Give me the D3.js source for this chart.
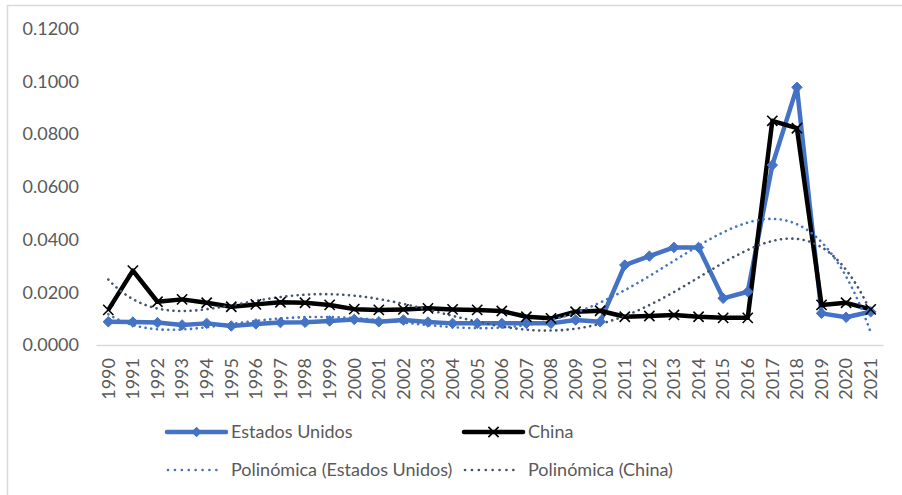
<!DOCTYPE html>
<html>
<head>
<meta charset="utf-8">
<script src="https://cdn.jsdelivr.net/npm/d3@7"></script>
<style>
  html, body { margin: 0; padding: 0; background: #fff; }
  svg { display: block; }
  text { font-family: Lato, "Open Sans", sans-serif; fill: #595959; }
</style>
</head>
<body>
<svg id="chart" width="902" height="495"></svg>
<script>
// Categories and series
const years = ["1990","1991","1992","1993","1994","1995","1996","1997","1998","1999",
  "2000","2001","2002","2003","2004","2005","2006","2007","2008","2009",
  "2010","2011","2012","2013","2014","2015","2016","2017","2018","2019","2020","2021"];

const estadosUnidos = [0.0088,0.0087,0.0085,0.0076,0.0082,0.0072,0.0080,0.0085,0.0086,0.0091,
  0.0097,0.0088,0.0095,0.0087,0.0082,0.0082,0.0082,0.0082,0.0082,0.0095,
  0.0088,0.0303,0.0337,0.0370,0.0370,0.0177,0.0202,0.0682,0.0977,0.0120,0.0105,0.0126];

const china = [0.0133,0.0282,0.0164,0.0173,0.0160,0.0145,0.0154,0.0162,0.0160,0.0152,
  0.0136,0.0133,0.0135,0.0139,0.0135,0.0133,0.0129,0.0107,0.0101,0.0126,
  0.0130,0.0107,0.0110,0.0114,0.0107,0.0103,0.0103,0.0850,0.0822,0.0152,0.0160,0.0135];

const yTicks = [0, 0.02, 0.04, 0.06, 0.08, 0.10, 0.12];

const seriesNames = ["Estados Unidos", "China"];
const trendNames = ["Polinómica (Estados Unidos)", "Polinómica (China)"];
const trendOrder = 5;

const svg = d3.select("#chart");

// Outer chart frame
svg.append("rect")
  .attr("x", 7.5).attr("y", 5.5)
  .attr("width", 1000).attr("height", 1000)
  .attr("fill", "none").attr("stroke", "#d9d9d9").attr("stroke-width", 1.5);

const plot = { left: 96, right: 883, top: 28.5, bottom: 345 };

const x = d3.scaleBand().domain(years).range([plot.left, plot.right]).padding(0);
const y = d3.scaleLinear().domain([0, 0.12]).range([plot.bottom, plot.top]);
const cx = d => x(d) + x.bandwidth() / 2;

// Y axis labels (no gridlines)
const yAxis = d3.axisLeft(y).tickValues(yTicks).tickFormat(d3.format(".4f")).tickSize(0).tickPadding(0);
const gy = svg.append("g").attr("transform", "translate(79,0)").call(yAxis);
gy.select(".domain").remove();
gy.selectAll("text").attr("font-size", "18px").attr("fill", "#595959")
  .style("font-family", "Lato, 'Open Sans', sans-serif");

// X axis line and rotated category labels
const xAxis = d3.axisBottom(x).tickSize(0).tickPadding(0);
const gx = svg.append("g").attr("transform", `translate(0,${plot.bottom})`).call(xAxis);
gx.select(".domain").attr("stroke", "#d9d9d9").attr("stroke-width", 1.5);
gx.selectAll("text")
  .attr("font-size", "18px").attr("fill", "#595959")
  .style("font-family", "Lato, 'Open Sans', sans-serif")
  .attr("text-anchor", "end")
  .attr("y", 0).attr("dy", "0.35em")
  .attr("transform", "translate(0,13) rotate(-90)");

// Least-squares polynomial trend computed from a series
function polyFit(values, order) {
  const n = values.length, mid = (n - 1) / 2;
  const ts = values.map((_, i) => (i - mid) / mid);
  const m = order + 1;
  const A = Array.from({ length: m }, () => new Array(m + 1).fill(0));
  ts.forEach((t, i) => {
    const p = [];
    for (let k = 0; k < m; k++) p.push(Math.pow(t, k));
    for (let r = 0; r < m; r++) {
      for (let c = 0; c < m; c++) A[r][c] += p[r] * p[c];
      A[r][m] += p[r] * values[i];
    }
  });
  for (let col = 0; col < m; col++) {
    let piv = col;
    for (let r = col + 1; r < m; r++) if (Math.abs(A[r][col]) > Math.abs(A[piv][col])) piv = r;
    [A[col], A[piv]] = [A[piv], A[col]];
    for (let r = 0; r < m; r++) {
      if (r === col) continue;
      const f = A[r][col] / A[col][col];
      for (let c = col; c <= m; c++) A[r][c] -= f * A[col][c];
    }
  }
  const coef = A.map((row, i) => row[m] / row[i]);
  return i => {
    const t = (i - mid) / mid;
    let v = 0;
    for (let k = m - 1; k >= 0; k--) v = v * t + coef[k];
    return v;
  };
}

const idx = d3.scaleLinear().domain([0, years.length - 1])
  .range([cx(years[0]), cx(years[years.length - 1])]);

function trendPoints(values) {
  const f = polyFit(values, trendOrder);
  const pts = [];
  for (let i = 0; i <= years.length - 1 + 1e-9; i += 0.1) pts.push([idx(i), y(f(i))]);
  return pts;
}

const colors = { us: "#4472C4", cn: "#000000", usTrend: "#4472C4", cnTrend: "#44546A" };
const dotted = { "stroke-width": 2.6, "stroke-dasharray": "0.1 5.6", "stroke-linecap": "round" };

const curve = d3.line().x(d => d[0]).y(d => d[1]).curve(d3.curveLinear);
const seriesLine = d3.line().x((d, i) => cx(years[i])).y(d => y(d));

// Series lines
svg.append("path").datum(estadosUnidos).attr("d", seriesLine)
  .attr("fill", "none").attr("stroke", colors.us).attr("stroke-width", 4.5)
  .attr("stroke-linejoin", "round");

svg.append("path").datum(china).attr("d", seriesLine)
  .attr("fill", "none").attr("stroke", colors.cn).attr("stroke-width", 4.5)
  .attr("stroke-linejoin", "round");

// Trendlines
function drawTrend(values, color) {
  const p = svg.append("path").datum(trendPoints(values)).attr("d", curve)
    .attr("fill", "none").attr("stroke", color);
  Object.entries(dotted).forEach(([k, v]) => p.attr(k, v));
}
drawTrend(estadosUnidos, colors.usTrend);
drawTrend(china, colors.cnTrend);

// Markers
const diamond = d3.symbol().type(d3.symbolDiamond2).size(70);
svg.append("g").selectAll("path").data(estadosUnidos).join("path")
  .attr("d", diamond)
  .attr("transform", (d, i) => `translate(${cx(years[i])},${y(d)})`)
  .attr("fill", colors.us).attr("stroke", colors.us).attr("stroke-width", 1);

const cross = d3.symbol().type(d3.symbolX).size(70);
svg.append("g").selectAll("path").data(china).join("path")
  .attr("d", cross)
  .attr("transform", (d, i) => `translate(${cx(years[i])},${y(d)})`)
  .attr("fill", "none").attr("stroke", colors.cn).attr("stroke-width", 1.6);

// Legend
const legend = svg.append("g");
const items = [
  { label: seriesNames[0], x: 167, y: 432, kind: "us" },
  { label: seriesNames[1], x: 464, y: 432, kind: "cn" },
  { label: trendNames[0], x: 167, y: 470, kind: "usTrend" },
  { label: trendNames[1], x: 464, y: 470, kind: "cnTrend" }
];
items.forEach(it => {
  const g = legend.append("g");
  if (it.kind === "us" || it.kind === "cn") {
    g.append("line").attr("x1", it.x).attr("x2", it.x + 59).attr("y1", it.y).attr("y2", it.y)
      .attr("stroke", colors[it.kind]).attr("stroke-width", 4.5).attr("stroke-linecap", "round");
    if (it.kind === "us") {
      g.append("path").attr("d", diamond).attr("transform", `translate(${it.x + 29.5},${it.y})`)
        .attr("fill", colors.us);
    } else {
      g.append("path").attr("d", cross).attr("transform", `translate(${it.x + 29.5},${it.y})`)
        .attr("fill", "none").attr("stroke", colors.cn).attr("stroke-width", 1.6);
    }
    g.append("text").attr("x", it.x + 64).attr("y", it.y).attr("dy", "0.35em")
      .attr("font-size", "18px").text(it.label);
  } else {
    const l = g.append("line").attr("x1", it.x + 1).attr("x2", it.x + 56).attr("y1", it.y).attr("y2", it.y)
      .attr("stroke", colors[it.kind]);
    Object.entries(dotted).forEach(([k, v]) => l.attr(k, v));
    l.attr("stroke-dasharray", "0.1 6.8");
    g.append("text").attr("x", it.x + 64).attr("y", it.y).attr("dy", "0.35em")
      .attr("font-size", "18px").text(it.label);
  }
});
</script>
</body>
</html>
